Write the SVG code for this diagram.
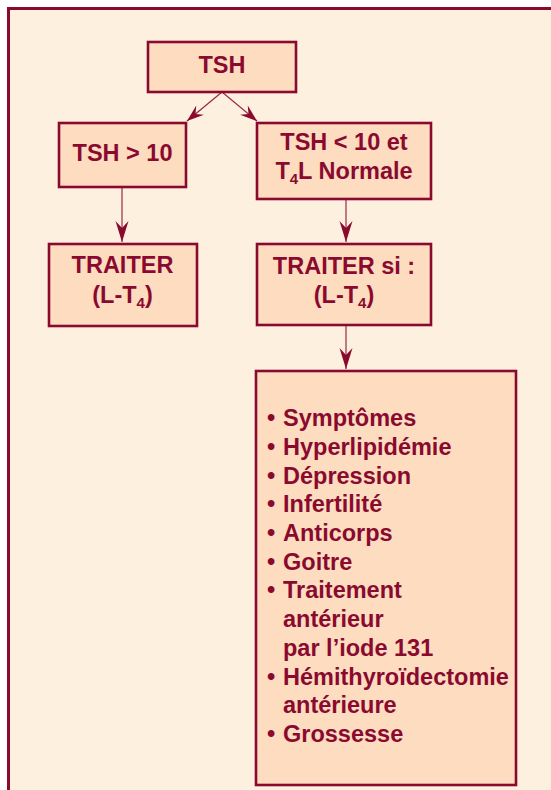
<svg xmlns="http://www.w3.org/2000/svg" width="551" height="790" viewBox="0 0 551 790">
<style>
.box{fill:#FDDCC0;stroke:#8A0A2F;stroke-width:2.6}
.t{font-family:"Liberation Sans",Arial,sans-serif;font-weight:bold;font-size:23.5px;fill:#8A0A2F}
.c{text-anchor:middle}
.sub{font-size:15px}
.ln{stroke:#9A2848;stroke-width:1.2;fill:none}
</style>
<defs>
<marker id="ah" markerUnits="userSpaceOnUse" markerWidth="24" markerHeight="16" refX="0" refY="0" viewBox="-22 -8 24 16" orient="auto">
<path d="M0,0 L-21,-6.5 L-14,0 L-21,6.5 Z" fill="#8A0A2F"/>
</marker>
<marker id="ahs" markerUnits="userSpaceOnUse" markerWidth="20" markerHeight="14" refX="0" refY="0" viewBox="-18 -7 20 14" orient="auto">
<path d="M0,0 L-17,-6 L-11,0 L-17,6 Z" fill="#8A0A2F"/>
</marker>
</defs>
<rect x="0" y="0" width="551" height="790" fill="#FFFFFF"/>
<rect x="8.5" y="8.5" width="560" height="800" fill="#FEF0DE" stroke="#8A0A2F" stroke-width="3"/>
<g id="connectors">
<line class="ln" x1="222" y1="92" x2="187" y2="121" marker-end="url(#ahs)"/>
<line class="ln" x1="222" y1="92" x2="257" y2="121" marker-end="url(#ahs)"/>
<line class="ln" x1="122" y1="187" x2="122" y2="242" marker-end="url(#ah)"/>
<line class="ln" x1="346" y1="199" x2="346" y2="242" marker-end="url(#ah)"/>
<line class="ln" x1="346" y1="325" x2="346" y2="369" marker-end="url(#ah)"/>
</g>
<g id="tsh">
<rect class="box" x="148" y="42" width="148" height="50"/>
<text class="t c" x="222" y="73">TSH</text>
</g>
<g id="tsh-gt10">
<rect class="box" x="59" y="123" width="127" height="64"/>
<text class="t c" x="122.5" y="161">TSH &gt; 10</text>
</g>
<g id="tsh-lt10">
<rect class="box" x="257" y="123" width="174" height="76"/>
<text class="t c" x="344" y="150">TSH &lt; 10 et</text>
<text class="t c" x="344" y="179">T<tspan class="sub" dy="5">4</tspan><tspan dy="-5">L Normale</tspan></text>
</g>
<g id="traiter">
<rect class="box" x="49" y="244" width="148" height="82"/>
<text class="t c" x="122.5" y="273">TRAITER</text>
<text class="t c" x="122.5" y="303">(L-T<tspan class="sub" dy="5">4</tspan><tspan dy="-5">)</tspan></text>
</g>
<g id="traiter-si">
<rect class="box" x="257" y="244" width="174" height="81"/>
<text class="t c" x="344" y="274">TRAITER si :</text>
<text class="t c" x="344" y="303">(L-T<tspan class="sub" dy="5">4</tspan><tspan dy="-5">)</tspan></text>
</g>
<g id="liste">
<rect class="box" x="256" y="371" width="260" height="414"/>
<text class="t" x="267" y="426">•</text><text class="t" x="283" y="426">Symptômes</text>
<text class="t" x="267" y="454.7">•</text><text class="t" x="283" y="454.7">Hyperlipidémie</text>
<text class="t" x="267" y="483.5">•</text><text class="t" x="283" y="483.5">Dépression</text>
<text class="t" x="267" y="512.2">•</text><text class="t" x="283" y="512.2">Infertilité</text>
<text class="t" x="267" y="540.9">•</text><text class="t" x="283" y="540.9">Anticorps</text>
<text class="t" x="267" y="569.7">•</text><text class="t" x="283" y="569.7">Goitre</text>
<text class="t" x="267" y="598.4">•</text><text class="t" x="283" y="598.4">Traitement</text>
<text class="t" x="283" y="627.1">antérieur</text>
<text class="t" x="283" y="655.8">par l’iode 131</text>
<text class="t" x="267" y="684.6">•</text><text class="t" x="283" y="684.6">Hémithyroïdectomie</text>
<text class="t" x="283" y="713.3">antérieure</text>
<text class="t" x="267" y="742">•</text><text class="t" x="283" y="742">Grossesse</text>
</g>
</svg>
